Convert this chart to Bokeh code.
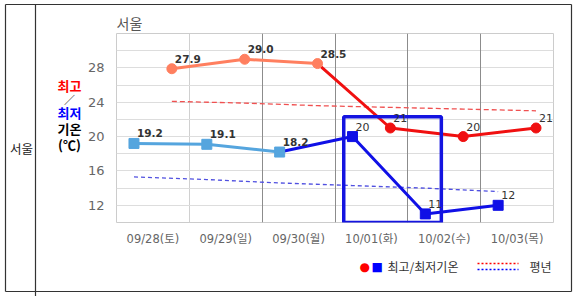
from bokeh.plotting import figure
from bokeh.models import FixedTicker, Range1d, Grid, ColumnDataSource
from bokeh.embed import file_html
from bokeh.resources import INLINE
from bokeh.core.properties import value

# ---- data ----
city = "서울"
dates = ["09/28(토)", "09/29(일)", "09/30(월)", "10/01(화)", "10/02(수)", "10/03(목)"]
highs = [27.9, 29.0, 28.5, 21, 20, 21]
lows = [19.2, 19.1, 18.2, 20, 11, 12]
high_labels = ["27.9", "29.0", "28.5", "21", "20", "21"]
low_labels = ["19.2", "19.1", "18.2", "20", "11", "12"]
high_normal = [24.1, 23.9, 23.6, 23.4, 23.2, 23.0]
low_normal = [15.3, 15.0, 14.6, 14.3, 14.0, 13.6]
y_ticks = [12, 16, 20, 24, 28]
observed_days = 3          # first three days are observed, rest forecast
highlight_days = (3, 4)    # boxed low temperatures
highlight_top = 22.3

# ---- geometry ----
W, H = 580, 296
FL, FR, FT, FB = 116, 553, 33, 222
X0, X1 = -0.5, len(dates) - 0.5
Y0, Y1 = 10, 32
HI_OFF, LO_OFF = 0.26, -0.26


def px2x(px):
    return X0 + (px - FL) * (X1 - X0) / (FR - FL)


def px2y(py):
    return Y1 - (py - FT) * (Y1 - Y0) / (FB - FT)


p = figure(width=W, height=H, x_range=Range1d(X0, X1), y_range=Range1d(Y0, Y1),
           output_backend="svg", toolbar_location=None,
           min_border_left=FL, min_border_right=W - FR,
           min_border_top=FT, min_border_bottom=H - FB)
p.outline_line_color = "#cccccc"
p.background_fill_color = "white"
p.border_fill_color = "white"

# grids
p.ygrid.ticker = FixedTicker(ticks=list(range(12, 31, 2)))
p.ygrid.grid_line_color = "#dddddd"
p.xgrid.ticker = FixedTicker(ticks=[0.5])
p.xgrid.grid_line_color = "#d0d0d0"
p.add_layout(Grid(dimension=0, ticker=FixedTicker(ticks=[i + 0.5 for i in range(1, len(dates) - 1)]),
                  grid_line_color="#8c8c8c"))

# axes
p.yaxis.ticker = FixedTicker(ticks=y_ticks)
p.xaxis.ticker = FixedTicker(ticks=list(range(len(dates))))
p.xaxis.major_label_overrides = {i: d for i, d in enumerate(dates)}
for ax in (p.xaxis[0], p.yaxis[0]):
    ax.axis_line_color = None
    ax.major_tick_line_color = None
    ax.minor_tick_line_color = None
    ax.major_label_text_color = "#666666"
    ax.major_label_text_font = "DejaVu Sans, Noto Sans CJK KR"
p.yaxis.major_label_text_font_size = "13px"
p.yaxis.major_label_standoff = 6
p.xaxis.major_label_text_font_size = "11.5px"
p.xaxis.major_label_standoff = 3

xs = list(range(len(dates)))
hx = [x + HI_OFF for x in xs]
lx = [x + LO_OFF for x in xs]
k = observed_days

# normals
p.line(hx, high_normal, line_color="#f05050", line_dash="5 3", line_width=1.3)
p.line(lx, low_normal, line_color="#5050e0", line_dash="4 3", line_width=1.3)

SALMON, RED = "#ff7f5f", "#f01010"
LBLUE, BLUE = "#55a5de", "#1010e6"

# highs
p.line(hx[:k], highs[:k], line_color=SALMON, line_width=3)
p.line(hx[k - 1:], highs[k - 1:], line_color=RED, line_width=3)
p.scatter(hx[:k], highs[:k], marker="circle", size=10, fill_color=SALMON, line_color=SALMON)
p.scatter(hx[k:], highs[k:], marker="circle", size=10, fill_color=RED, line_color=RED)
# lows
p.line(lx[:k], lows[:k], line_color=LBLUE, line_width=3)
p.line(lx[k - 1:], lows[k - 1:], line_color=BLUE, line_width=3)
p.scatter(lx[:k], lows[:k], marker="square", size=10, fill_color=LBLUE, line_color=LBLUE)
p.scatter(lx[k:], lows[k:], marker="square", size=10, fill_color=BLUE, line_color=BLUE)

# highlight box
a, b = highlight_days
p.quad(left=[lx[a] - 0.12], right=[lx[b] + 0.22], bottom=[Y0], top=[highlight_top],
       fill_color=None, line_color="#1414e0", line_width=3.5)

# data labels
for xs_, ys_, labs in ((hx, highs, high_labels), (lx, lows, low_labels)):
    src_obs = ColumnDataSource(dict(x=xs_[:k], y=ys_[:k], t=labs[:k]))
    src_fc = ColumnDataSource(dict(x=xs_[k:], y=ys_[k:], t=labs[k:]))
    p.text("x", "y", "t", source=src_obs, x_offset=3, y_offset=-10,
           text_font=value("DejaVu Sans"), text_font_style="bold",
           text_font_size="10.5px", text_color="#333333", text_baseline="alphabetic",
           level="overlay")
    p.text("x", "y", "t", source=src_fc, x_offset=3, y_offset=-10,
           text_font=value("DejaVu Sans"), text_font_size="11px",
           text_color="#333333", text_baseline="alphabetic", level="overlay")


# ---- decorations outside the frame ----
def lab(text, px, py, size="13px", color="#000000", style="normal", align="left",
        font="Noto Sans CJK KR"):
    p.text(x=[px2x(px)], y=[px2y(py)], text=[text], text_font_size=size,
           text_color=color, text_font_style=style, text_align=align,
           text_baseline="middle", text_font=value(font), level="overlay")


lab(city, 116, 22, size="14px", color="#555555")
lab(city, 21, 148, size="12.5px", color="#222222", align="center")
lab("최고", 69, 85, color="#ff0000", style="bold", align="center")
lab("／", 69, 98, size="11px", color="#000000", align="center")
lab("최저", 69, 112, color="#0000ff", style="bold", align="center")
lab("기온", 69, 128, color="#000000", style="bold", align="center")
lab("(℃)", 69, 144, color="#000000", style="bold", align="center")

# legend
lab("●", 359, 266, size="12px", color="#ff0000", font="DejaVu Sans")
lab("■", 371, 266, size="12px", color="#0000ff", font="DejaVu Sans")
lab("최고/최저기온", 387, 266, size="12px", color="#333333")
lab("평년", 529, 266, size="12px", color="#333333")
p.segment(x0=[px2x(477)], y0=[px2y(263)], x1=[px2x(518)], y1=[px2y(263)],
          line_color="#ff0000", line_dash="2 2", line_width=1.5, level="overlay")
p.segment(x0=[px2x(477)], y0=[px2y(269)], x1=[px2x(518)], y1=[px2y(269)],
          line_color="#0000ff", line_dash="2 2", line_width=1.5, level="overlay")

# table borders
bx0 = [5, 5, 35, 571, 5]
by0 = [4, 4, 4, 4, 291]
bx1 = [571, 5, 35, 571, 571]
by1 = [4, 291, 296, 291, 291]
p.segment(x0=[px2x(v) for v in bx0], y0=[px2y(v) for v in by0],
          x1=[px2x(v) for v in bx1], y1=[px2y(v) for v in by1],
          line_color="#333333", line_width=1.2, level="overlay")

open("out.html", "w").write(file_html(p, INLINE))
